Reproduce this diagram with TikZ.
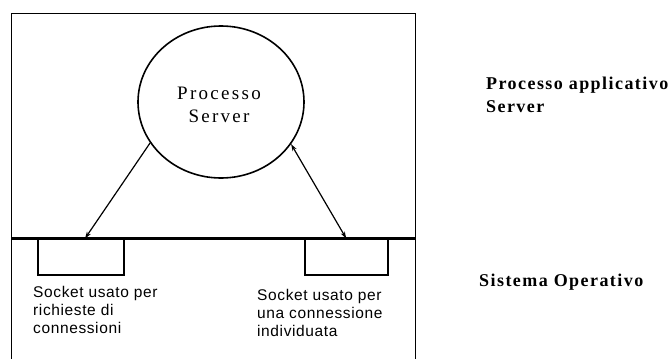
\documentclass[tikz,border=0pt]{standalone}
\usepackage{fontspec}
\usetikzlibrary{shapes.geometric,arrows.meta}
% Typefaces: spaced serif for the process, sans for the socket notes
\newfontfamily\srvfont[LetterSpace=12]{Liberation Serif}
\newfontfamily\layerfont[LetterSpace=8]{Liberation Serif}
\newfontfamily\sockfont[LetterSpace=4]{Liberation Sans}
\begin{document}
\begin{tikzpicture}[x=1pt,y=-1pt,
  frame/.style={line width=1.5pt},
  divider/.style={line width=2.2pt},
  procell/.style={ellipse,draw,line width=1.6pt,minimum width=166pt,minimum height=152pt,inner sep=0pt},
  proctext/.style={font=\srvfont\fontsize{19}{23}\selectfont,align=center,inner sep=0pt},
  socketbox/.style={rectangle,draw,line width=1.5pt,inner sep=0pt,minimum height=35.5pt},
  socktext/.style={font=\sockfont\fontsize{15.5}{18}\selectfont,align=left,inner sep=0pt,anchor=north west},
  layertext/.style={font=\layerfont\bfseries\fontsize{18}{23}\selectfont,align=left,inner sep=0pt},
  conn/.style={line width=1.2pt},
  tip/.tip={Stealth[length=7pt,width=4.5pt]}
]
\useasboundingbox (0,0) rectangle (670,359);
\fill[white] (0,0) rectangle (670,359);

% outer frame (open at the bottom) and the boundary between the two layers
\draw[frame] (11.5,359) -- (11.5,13.5) -- (415.5,13.5) -- (415.5,359);
\draw[divider] (11.5,238.5) -- (415.5,238.5);

% the server process
\node[procell] (srv) at (221,102) {};
\node[proctext,anchor=north] (srvlbl) at (219,87) {Processo\\Server};

% sockets hanging below the boundary
\node[socketbox,minimum width=86pt,anchor=north west] (sockL) at (37,238.5) {};
\node[socketbox,minimum width=83pt,anchor=north west] (sockR) at (304,238.5) {};
\coordinate (endL) at (85,238.5);

\draw[conn,-tip] (srv.210) -- (endL);
\draw[conn,tip-tip] (srv.-31) -- (sockR.north);

% socket notes
\node[socktext] (noteL) at (33,286) {Socket usato per\\richieste di\\connessioni};
\node[socktext] (noteR) at (257,289) {Socket usato per\\una connessione\\individuata};

% layer names
\node[layertext,anchor=north west] (appl) at (486,77) {Processo applicativo\\Server};
\node[layertext,anchor=base west] (os) at (479,286) {Sistema Operativo};
\end{tikzpicture}
\end{document}
